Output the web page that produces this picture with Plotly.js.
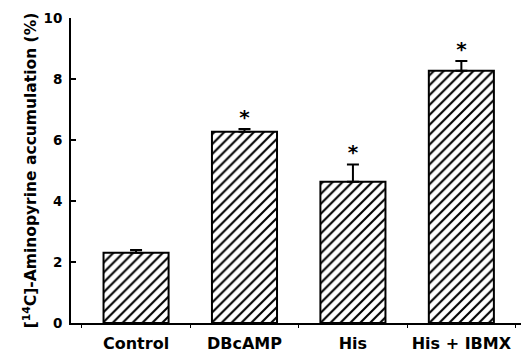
<!DOCTYPE html>
<html>
<head>
<meta charset="utf-8">
<script src="https://cdn.plot.ly/plotly-3.0.1.min.js"></script>
<style>html,body{margin:0;padding:0;background:#fff;}#chart{width:522px;height:354px;}</style>
</head>
<body>
<div id="chart"></div>
<script>
var categories = ["Control", "DBcAMP", "His", "His + IBMX"];
var values = [2.30, 6.27, 4.63, 8.27];
var errors = [0.09, 0.09, 0.57, 0.32];
var significant = [false, true, true, true];
var yTicks = [0, 2, 4, 6, 8, 10];

var FONT = "DejaVu Sans, Arial, sans-serif";

var bars = {
  type: "bar",
  x: categories,
  y: values,
  width: 0.6,
  marker: {
    color: "#ffffff",
    line: {color: "#000000", width: 2},
    pattern: {shape: "/", fgcolor: "#000000", bgcolor: "#ffffff", size: 7, solidity: 0.3}
  },
  error_y: {
    type: "data", symmetric: false, array: errors,
    arrayminus: errors.map(function(){return 0;}),
    color: "#000000", thickness: 2, width: 6
  },
  hoverinfo: "none",
  showlegend: false
};

var starX = [], starY = [];
categories.forEach(function(c, i){
  if (significant[i]) { starX.push(c); starY.push(values[i] + errors[i]); }
});
var stars = {
  type: "scatter", mode: "text",
  x: starX, y: starY,
  text: starX.map(function(){return "<b>*</b>";}),
  textposition: "top center",
  textfont: {family: FONT, size: 20, color: "#000", weight: "bold"},
  showlegend: false, hoverinfo: "none"
};

var layout = {
  width: 522, height: 354,
  margin: {l: 71, r: 1, t: 18, b: 31},
  paper_bgcolor: "#fff", plot_bgcolor: "#fff",
  showlegend: false,
  xaxis: {
    type: "category",
    range: [-0.6, 3.55],
    showline: true, linecolor: "#000", linewidth: 2,
    ticks: "outside", tickson: "boundaries", ticklen: 3, tickwidth: 1, tickcolor: "#000",
    tickangle: 0,
    ticklabelstandoff: 5,
    tickfont: {family: FONT, size: 16, color: "#000", weight: "bold"},
    showgrid: false, zeroline: false, fixedrange: true
  },
  yaxis: {
    range: [0, 10],
    tickvals: yTicks,
    ticktext: yTicks.map(String),
    showline: true, linecolor: "#000", linewidth: 2,
    ticks: "inside", ticklen: 5, tickwidth: 2, tickcolor: "#000",
    ticklabelstandoff: 4,
    tickfont: {family: FONT, size: 13.5, color: "#000", weight: "bold"},
    showgrid: false, zeroline: false, fixedrange: true,
    title: {
      text: "[<sup>14</sup>C]-Aminopyrine accumulation (%)",
      font: {family: FONT, size: 15.5, color: "#000", weight: "bold"},
      standoff: 3
    }
  }
};

Plotly.newPlot("chart", [bars, stars], layout, {displayModeBar: false, staticPlot: true});
</script>
</body>
</html>
